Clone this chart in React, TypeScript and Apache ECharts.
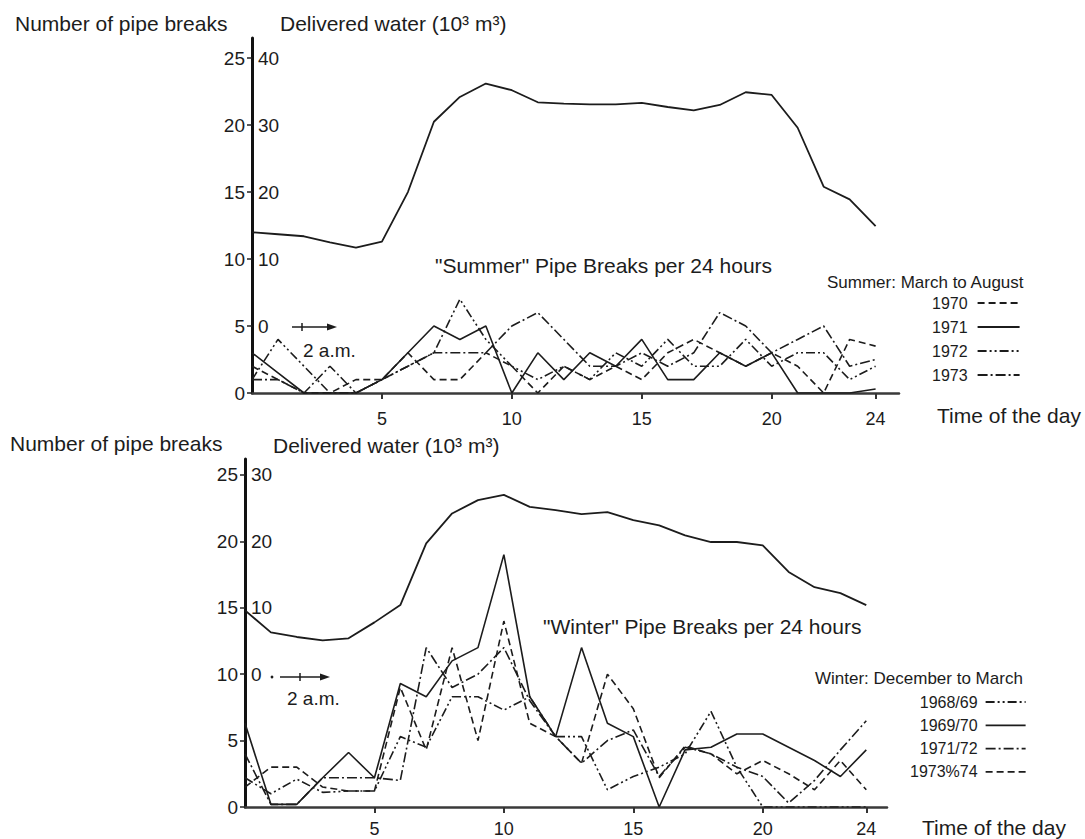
import React, { useEffect, useRef } from "react";
import * as echarts from "echarts";

// ---------- data ----------
const hours = [0, 1, 2, 3, 4, 5, 6, 7, 8, 9, 10, 11, 12, 13, 14, 15, 16, 17, 18, 19, 20, 21, 22, 23, 24];
const xTickValues = [5, 10, 15, 20, 24];
const breakTicks = [0, 5, 10, 15, 20, 25];
const summerWaterTicks = [0, 10, 20, 30, 40];
const winterWaterTicks = [0, 10, 20, 30];

// Summer (March to August)
const summerWater = [14.0, 13.7, 13.4, 12.5, 11.7, 12.6, 20.0, 30.5, 34.2, 36.2, 35.2, 33.4, 33.2, 33.1, 33.1, 33.3, 32.7, 32.2, 33.0, 34.9, 34.5, 29.6, 20.8, 18.9, 14.9];
const summer1970 = [2, 1, 0, 0, 1, 1, 3, 1, 1, 3, 2, 0, 2, 1, 2, 1, 3, 4, 3, 2, 3, 2, 0, 4, 3.5];
const summer1971 = [3, 1.5, 0, 0, 0, 1, 3, 5, 4, 5, 0, 3, 1, 3, 2, 4, 1, 1, 3, 2, 3, 0, 0, 0, 0.3];
const summer1972 = [1, 4, 2, 0, 0, 1, 2, 3, 7, 4, 2, 1, 2, 1, 3, 2, 4, 2, 2, 4, 2, 3, 3, 1, 2];
const summer1973 = [1, 1, 0, 2, 0, 1, 2, 3, 3, 3, 5, 6, 4, 2, 2, 3, 2, 3, 6, 5, 3, 4, 5, 2, 2.5];
const summerNames = ["1970", "1971", "1972", "1973"];

// Winter (December to March)
const winterWater = [9.6, 6.3, 5.6, 5.1, 5.4, 7.8, 10.4, 19.7, 24.2, 26.2, 27.0, 25.2, 24.7, 24.1, 24.4, 23.2, 22.4, 20.9, 19.9, 19.9, 19.4, 15.4, 13.1, 12.2, 10.4];
const winter6869 = [2.2, 1, 2.1, 1.1, 1.2, 1.2, 5.3, 4.5, 8.3, 8.3, 7.3, 8.3, 5.3, 5.3, 1.3, 2.3, 3, 4, 7.2, 3, 0, 0, 0, 0, 0];
const winter6970 = [6.3, 0.2, 0.2, 2.2, 4.1, 2.2, 9.3, 8.3, 11, 12, 19, 8.3, 5.3, 12, 6.3, 5.3, 0, 4.3, 4.5, 5.5, 5.5, 4.5, 3.5, 2.3, 4.3];
const winter7172 = [4, 0.2, 0.2, 2.2, 2.2, 2.2, 2, 12, 9, 10, 12, 8, 5.3, 3.3, 5, 5.8, 2.3, 4.5, 4, 3, 2.3, 0.3, 2, 4.3, 6.5];
const winter7374 = [1.5, 3, 3, 1.5, 1.2, 1.2, 9, 4.3, 12, 5, 14, 6.3, 5.3, 3.3, 10, 7.4, 2.2, 4.6, 4, 2.5, 3.5, 2.5, 1.3, 3.5, 1.3];
const winterNames = ["1968/69", "1969/70", "1971/72", "1973%74"];

// ---------- styling ----------
const FONT = "'Liberation Sans', Arial, Helvetica, sans-serif";
const INK = "#1c1c1c";
const DASH = [7, 4];
const DASH_DOT = [10, 3, 2, 3];
const DASH_DOT_DOT = [9, 3, 2, 3, 2, 3];

const pairs = (vals: number[]) => vals.map((v, i) => [hours[i], v]);

function lineSeries(name: string, vals: number[], xIdx: number, yIdx: number, type: any, width = 1.6) {
  return {
    type: "line",
    name,
    xAxisIndex: xIdx,
    yAxisIndex: yIdx,
    data: pairs(vals),
    symbol: "none",
    showSymbol: false,
    silent: true,
    lineStyle: { color: INK, width, type },
    itemStyle: { color: INK },
    z: 3,
  };
}

const onlyValues = (allowed: number[]) => (v: number) => (allowed.indexOf(Math.round(v * 1000) / 1000) >= 0 ? String(v) : "");

function xAxis(gridIndex: number, max: number, margin: number) {
  return {
    type: "value",
    gridIndex,
    min: 0,
    max,
    axisLine: { show: true, onZero: false, lineStyle: { color: "#3a3a3a", width: 2.5 } },
    axisTick: { show: true, customValues: xTickValues, length: 6, lineStyle: { color: "#333", width: 2 } },
    axisLabel: { customValues: xTickValues, formatter: onlyValues(xTickValues), margin, fontSize: 18, color: INK, fontFamily: FONT },
    splitLine: { show: false },
  };
}

function breaksAxis(gridIndex: number, max: number) {
  return {
    type: "value",
    gridIndex,
    min: 0,
    max,
    position: "left",
    axisLine: { show: true, onZero: false, lineStyle: { color: "#111", width: 3 } },
    axisTick: { show: true, customValues: breakTicks, length: 5, lineStyle: { color: "#222", width: 1.5 } },
    axisLabel: { customValues: breakTicks, formatter: onlyValues(breakTicks), margin: 7, fontSize: 19, color: INK, fontFamily: FONT },
    splitLine: { show: false },
  };
}

function waterAxis(gridIndex: number, min: number, max: number, ticks: number[]) {
  return {
    type: "value",
    gridIndex,
    min,
    max,
    position: "left",
    axisLine: { show: false },
    axisTick: { show: false },
    axisLabel: { inside: true, customValues: ticks, formatter: onlyValues(ticks), margin: 6, fontSize: 19, color: INK, fontFamily: FONT },
    splitLine: { show: false },
  };
}

function txt(x: number, y: number, text: string, fontSize = 21) {
  return {
    type: "text",
    silent: true,
    style: { x, y, text, fontSize, fontFamily: FONT, fill: INK, align: "left", verticalAlign: "middle" },
  };
}

function arrow(x1: number, x2: number, y: number, tickX: number) {
  return [
    { type: "line", silent: true, shape: { x1, y1: y, x2: x2 - 4, y2: y }, style: { stroke: INK, lineWidth: 1.5 } },
    { type: "polygon", silent: true, shape: { points: [[x2, y], [x2 - 10, y - 3.5], [x2 - 10, y + 3.5]] }, style: { fill: INK } },
    { type: "line", silent: true, shape: { x1: tickX, y1: y - 4, x2: tickX, y2: y + 4 }, style: { stroke: INK, lineWidth: 1.5 } },
  ];
}

export default function App() {
  const ref = useRef<HTMLDivElement>(null);

  useEffect(() => {
    if (!ref.current) return;
    const chart = echarts.init(ref.current, null, { renderer: "svg" });

    const legendBase = {
      orient: "vertical",
      align: "right",
      padding: 0,
      itemHeight: 14,
      selectedMode: false,
      itemStyle: { opacity: 0 },
      lineStyle: { width: 1.8 },
    };
    const legendText = { fontSize: 16, color: INK, fontFamily: FONT };

    chart.setOption({
      animation: false,
      backgroundColor: "#ffffff",
      textStyle: { fontFamily: FONT },
      grid: [
        { left: 252, top: 38, width: 647, height: 355 },
        { left: 245, top: 459, width: 642, height: 348 },
      ],
      xAxis: [xAxis(0, 24.9, 17), xAxis(1, 24.8, 13)],
      yAxis: [
        breaksAxis(0, 26.5),
        waterAxis(0, -10, 43, summerWaterTicks),
        breaksAxis(1, 26.2),
        waterAxis(1, -20, 32.4, winterWaterTicks),
      ],
      legend: [
        {
          ...legendBase,
          data: summerNames,
          left: 932,
          top: 295,
          itemWidth: 42,
          itemGap: 8,
          textStyle: { ...legendText, padding: [0, 5, 0, 0] },
        },
        {
          ...legendBase,
          data: winterNames,
          left: 910,
          top: 694,
          itemWidth: 40,
          itemGap: 7.3,
          textStyle: { ...legendText, padding: [0, 3, 0, 0] },
        },
      ],
      series: [
        lineSeries("Summer delivered water", summerWater, 0, 1, "solid", 1.8),
        lineSeries("1970", summer1970, 0, 0, DASH),
        lineSeries("1971", summer1971, 0, 0, "solid"),
        lineSeries("1972", summer1972, 0, 0, DASH_DOT_DOT),
        lineSeries("1973", summer1973, 0, 0, DASH_DOT),
        lineSeries("Winter delivered water", winterWater, 1, 3, "solid", 1.8),
        lineSeries("1968/69", winter6869, 1, 2, DASH_DOT_DOT),
        lineSeries("1969/70", winter6970, 1, 2, "solid"),
        lineSeries("1971/72", winter7172, 1, 2, DASH_DOT),
        lineSeries("1973%74", winter7374, 1, 2, DASH),
      ],
      graphic: [
        // top panel texts
        txt(15, 23, "Number of pipe breaks"),
        txt(280, 23, "Delivered water (10³ m³)"),
        txt(435, 265, "\"Summer\" Pipe Breaks per 24 hours"),
        txt(937, 415, "Time of the day"),
        txt(827, 282, "Summer: March to August", 17),
        txt(303, 350, "2 a.m.", 19),
        ...arrow(292, 337, 327, 302),
        // bottom panel texts
        txt(10, 443, "Number of pipe breaks"),
        txt(273, 445, "Delivered water (10³ m³)"),
        txt(543, 626, "\"Winter\" Pipe Breaks per 24 hours"),
        txt(922, 827, "Time of the day"),
        txt(815, 678, "Winter: December to March", 17),
        txt(287, 698, "2 a.m.", 19),
        { type: "circle", silent: true, shape: { cx: 272, cy: 677, r: 1.4 }, style: { fill: INK } },
        ...arrow(280, 330, 677, 300),
      ],
    });

    return () => chart.dispose();
  }, []);

  return (
    <div
      ref={ref}
      style={{ position: "absolute", left: 0, top: 0, width: 1085, height: 839, background: "#fff" }}
    />
  );
}
